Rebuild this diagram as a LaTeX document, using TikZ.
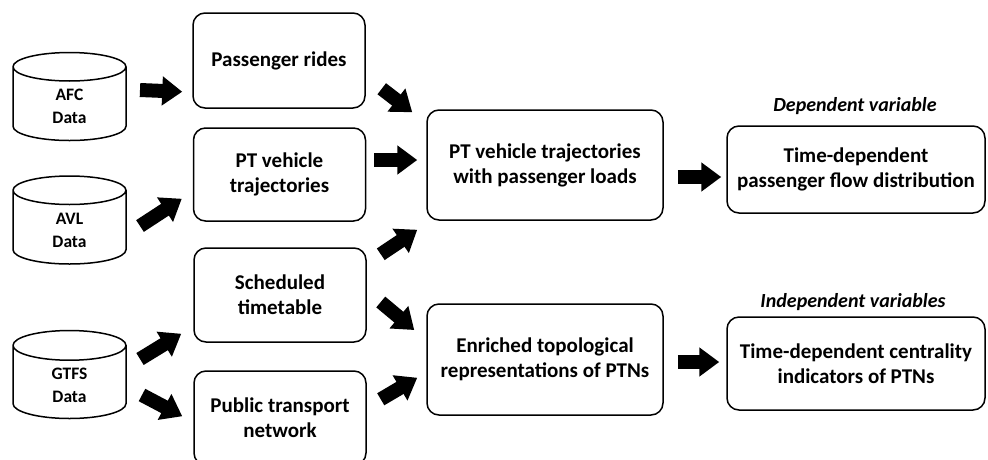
\documentclass[tikz,border=0pt]{standalone}
\usepackage{fontspec}
\setmainfont{Carlito}
\usepackage{tikz}
\usetikzlibrary{shapes.geometric, arrows.meta, positioning}
\tikzset{
    database/.style={cylinder, shape border rotate=90, aspect=0.7, draw, line width=1.5pt,
                     minimum width=113pt, minimum height=88pt, align=center, anchor=shape center,
                     font=\fontsize{17.5}{23}\selectfont\bfseries},
    block/.style={rectangle, draw, line width=1.5pt, rounded corners=12pt,
                  text centered, align=center, font=\fontsize{21}{25}\selectfont\bfseries},
    inblock/.style={block, minimum width=172pt, minimum height=94pt},
    midblock/.style={block, minimum width=236pt, minimum height=110pt},
    outblock/.style={block, minimum width=258pt, minimum height=90pt},
    fatarrow/.style={line width=14pt, -{Triangle[length=20pt, width=28pt]}},
    varlabel/.style={font=\fontsize{20}{24}\selectfont\bfseries\itshape}
}
\begin{document}
\begin{tikzpicture}[x=1pt, y=-1pt]
    \useasboundingbox (0,0) rectangle (988,459);
    \node[database] (afc) at (69.5,96.5) {AFC\\Data};
    \node[database] (avl) at (69.5,220) {AVL\\Data};
    \node[database] (gtfs) at (69.5,374.5) {GTFS\\Data};

    \node[inblock, minimum height=95pt] (rides) at (279,60.5) {Passenger rides};
    \node[inblock, minimum height=93pt] (traj) at (279.5,174.5) {PT vehicle\\trajectories};
    \node[inblock] (sched) at (280,295) {Scheduled\\timetable};
    \node[inblock] (net) at (280,418) {Public transport\\network};

    \node[midblock] (load) at (545,165) {PT vehicle trajectories\\with passenger loads};
    \node[midblock, minimum height=111pt] (enr) at (545,359.5) {Enriched topological\\representations of PTNs};

    \node[outblock, minimum height=87pt] (flow) at (856,169.5) {Time-dependent\\passenger flow distribution};
    \node[outblock, minimum height=93pt] (cent) at (856,363.5) {Time-dependent centrality\\indicators of PTNs};
    \node[varlabel] (dep) at (855,106) {Dependent variable};
    \node[varlabel] (indep) at (853,302.5) {Independent variables};

    \draw[fatarrow] ([shift={(70.5,-6.5)}]afc.shape center) -- ([shift={(-10,-17)}]rides.south west);
    \draw[fatarrow] ([shift={(70.5,6)}]avl.shape center) -- ([shift={(-11,-23)}]traj.south west);
    \draw[fatarrow] ([shift={(70.5,-15.5)}]gtfs.shape center) -- ([shift={(-12,-9)}]sched.south west);
    \draw[fatarrow] ([shift={(72.5,20.5)}]gtfs.shape center) -- ([shift={(-11,46)}]net.north west);
    \draw[fatarrow] ([shift={(16,-20)}]rides.south east) -- ([shift={(-14,3)}]load.north west);
    \draw[fatarrow] ([shift={(8,-14.5)}]traj.east) -- ([shift={(-9,-5)}]load.west);
    \draw[fatarrow] ([shift={(14,7)}]sched.north east) -- ([shift={(-9,9)}]load.south west);
    \draw[fatarrow] ([shift={(14,7)}]sched.east) -- ([shift={(-12,-29.5)}]enr.west);
    \draw[fatarrow] ([shift={(14,29)}]net.north east) -- ([shift={(-9,-38)}]enr.south west);
    \draw[fatarrow] ([shift={(14,12)}]load.east) -- ([shift={(-5,7.5)}]flow.west);
    \draw[fatarrow] ([shift={(14,2.5)}]enr.east) -- ([shift={(-7,-1.5)}]cent.west);
\end{tikzpicture}
\end{document}
